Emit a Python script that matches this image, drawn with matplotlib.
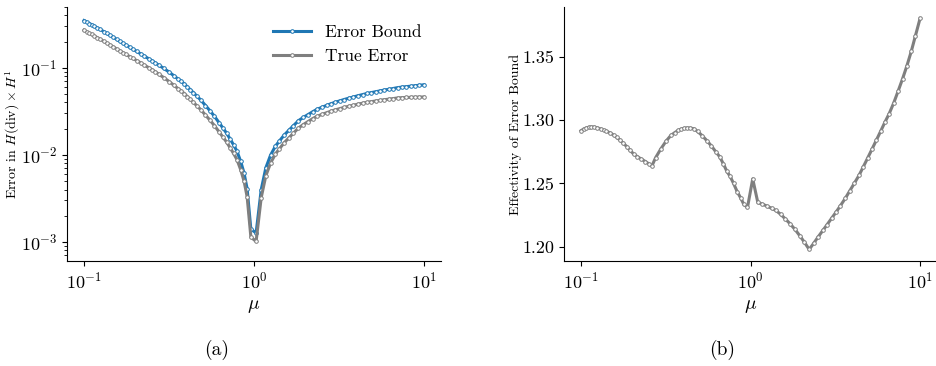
import numpy as np
import matplotlib
matplotlib.use("Agg")
import matplotlib.pyplot as plt
from matplotlib.ticker import NullLocator

plt.rcParams.update({
    "font.family": "serif",
    "font.serif": ["cmr10", "DejaVu Serif"],
    "mathtext.fontset": "cm",
    "axes.formatter.use_mathtext": True,
    "axes.unicode_minus": False,
})

# Parameter values mu
mu = [0.1, 0.1035, 0.1076, 0.1109, 0.1148, 0.1199, 0.1245, 0.1306, 0.1361, 0.1413,
      0.1483, 0.1556, 0.1622, 0.1694, 0.1770, 0.1862, 0.1941, 0.2042, 0.2153, 0.2265,
      0.2399, 0.2523, 0.2618, 0.2754, 0.2951, 0.3184, 0.3388, 0.3573, 0.3733, 0.3890,
      0.4055, 0.4217, 0.4406, 0.4624, 0.4875, 0.5188, 0.5521, 0.5861, 0.6237, 0.6577,
      0.6918, 0.7244, 0.7586, 0.7943, 0.8356, 0.8750, 0.9120, 0.9594, 1.030, 1.104,
      1.175, 1.253, 1.337, 1.413, 1.507, 1.603, 1.706, 1.828, 1.950, 2.080,
      2.218, 2.355, 2.512, 2.679, 2.831, 3.006, 3.199, 3.388, 3.631, 3.846,
      4.093, 4.365, 4.624, 4.898, 5.200, 5.521, 5.861, 6.194, 6.577, 6.998,
      7.413, 7.889, 8.356, 8.872, 9.376, 10.0]

# Estimated error bound in H(div) x H^1
error_bound = [0.349, 0.3365, 0.3228, 0.3126, 0.3013, 0.2871, 0.2761, 0.2612, 0.2489, 0.2382,
               0.2249, 0.2123, 0.2023, 0.1919, 0.1824, 0.1718, 0.1637, 0.1542, 0.1449, 0.1365,
               0.1274, 0.1197, 0.1143, 0.1074, 0.0984, 0.0887, 0.0808, 0.0746, 0.0700, 0.0655,
               0.0605, 0.0562, 0.0518, 0.0472, 0.0425, 0.0369, 0.0320, 0.0277, 0.0234, 0.0203,
               0.01766, 0.0152, 0.01306, 0.01106, 0.00841, 0.00617, 0.00408, 0.00140, 0.00127, 0.00400,
               0.00710, 0.00993, 0.01256, 0.01445, 0.0169, 0.0191, 0.0216, 0.0247, 0.0269, 0.0290,
               0.0313, 0.0334, 0.0352, 0.0370, 0.0386, 0.0402, 0.0417, 0.0432, 0.0449, 0.0462,
               0.0478, 0.0493, 0.0507, 0.0519, 0.0531, 0.0543, 0.0556, 0.0566, 0.0578, 0.0592,
               0.0600, 0.0608, 0.0615, 0.0623, 0.0630, 0.0638]

# Effectivity of the error bound (bound / true error)
effectivity = [1.2915, 1.2928, 1.2937, 1.2942, 1.2945, 1.2944, 1.2938, 1.2929, 1.2920, 1.2911,
               1.2898, 1.2881, 1.2864, 1.2842, 1.2818, 1.2790, 1.2762, 1.2732, 1.2710, 1.2692,
               1.2672, 1.2652, 1.2637, 1.2702, 1.2770, 1.2835, 1.2878, 1.2900, 1.2917, 1.2927,
               1.2934, 1.2937, 1.2936, 1.2931, 1.2909, 1.2876, 1.2837, 1.2797, 1.2749, 1.2710,
               1.2653, 1.2596, 1.2554, 1.2499, 1.2432, 1.2385, 1.2335, 1.2310, 1.2535, 1.2349,
               1.2336, 1.2320, 1.2302, 1.2286, 1.2255, 1.2220, 1.2183, 1.2137, 1.2088, 1.2035,
               1.1979, 1.2026, 1.2080, 1.2131, 1.2175, 1.2224, 1.2274, 1.2323, 1.2384, 1.2440,
               1.2500, 1.2563, 1.2630, 1.2697, 1.2768, 1.2840, 1.2912, 1.2980, 1.3050, 1.3135,
               1.3225, 1.3325, 1.3425, 1.3540, 1.3660, 1.3800]

mu = np.array(mu)
error_bound = np.array(error_bound)
effectivity = np.array(effectivity)
true_error = error_bound / effectivity

BLUE = "#1f77b4"
GRAY = "#7f7f7f"
line_kw = dict(lw=2.2, marker="o", ms=2.6, mfc="white", mew=0.7)

fig = plt.figure(figsize=(9.37, 3.66), dpi=100)
ax1 = fig.add_axes([0.0715, 0.287, 0.399, 0.694])
ax2 = fig.add_axes([0.602, 0.287, 0.398, 0.694])

ax1.plot(mu, error_bound, color=BLUE, mec=BLUE, label="Error Bound", **line_kw)
ax1.plot(mu, true_error, color=GRAY, mec=GRAY, label="True Error", **line_kw)
ax1.set_xscale("log")
ax1.set_yscale("log")
ax1.set_ylim(6.05e-4, 0.50)
ax1.set_xlabel(r"$\mu$", fontsize=14)
ax1.set_ylabel(r"Error in $H(\mathrm{div})\times H^1$", fontsize=10)
ax1.yaxis.set_label_coords(-0.12, 0.5)
ax1.legend(loc="upper right", frameon=False, fontsize=12.5, handlelength=2.2,
           bbox_to_anchor=(0.99, 0.99))

ax2.plot(mu, effectivity, color=GRAY, mec=GRAY, **line_kw)
ax2.set_xscale("log")
ax2.set_xlabel(r"$\mu$", fontsize=14)
ax2.set_ylabel("Effectivity of Error Bound", fontsize=10)
ax2.yaxis.set_label_coords(-0.113, 0.5)
ax2.set_yticks([1.20, 1.25, 1.30, 1.35])
ax2.set_yticklabels(["1.20", "1.25", "1.30", "1.35"])

for ax in (ax1, ax2):
    ax.spines["top"].set_visible(False)
    ax.spines["right"].set_visible(False)
    ax.xaxis.set_minor_locator(NullLocator())
    ax.tick_params(axis="both", which="major", labelsize=13, length=3.5, width=0.8)
    ax.tick_params(axis="both", which="minor", length=2, width=0.6)

fig.text(217 / 937, 1 - 350 / 366, "(a)", ha="center", va="center", fontsize=14)
fig.text(722 / 937, 1 - 350 / 366, "(b)", ha="center", va="center", fontsize=14)

fig.savefig("out.png", dpi=100)
